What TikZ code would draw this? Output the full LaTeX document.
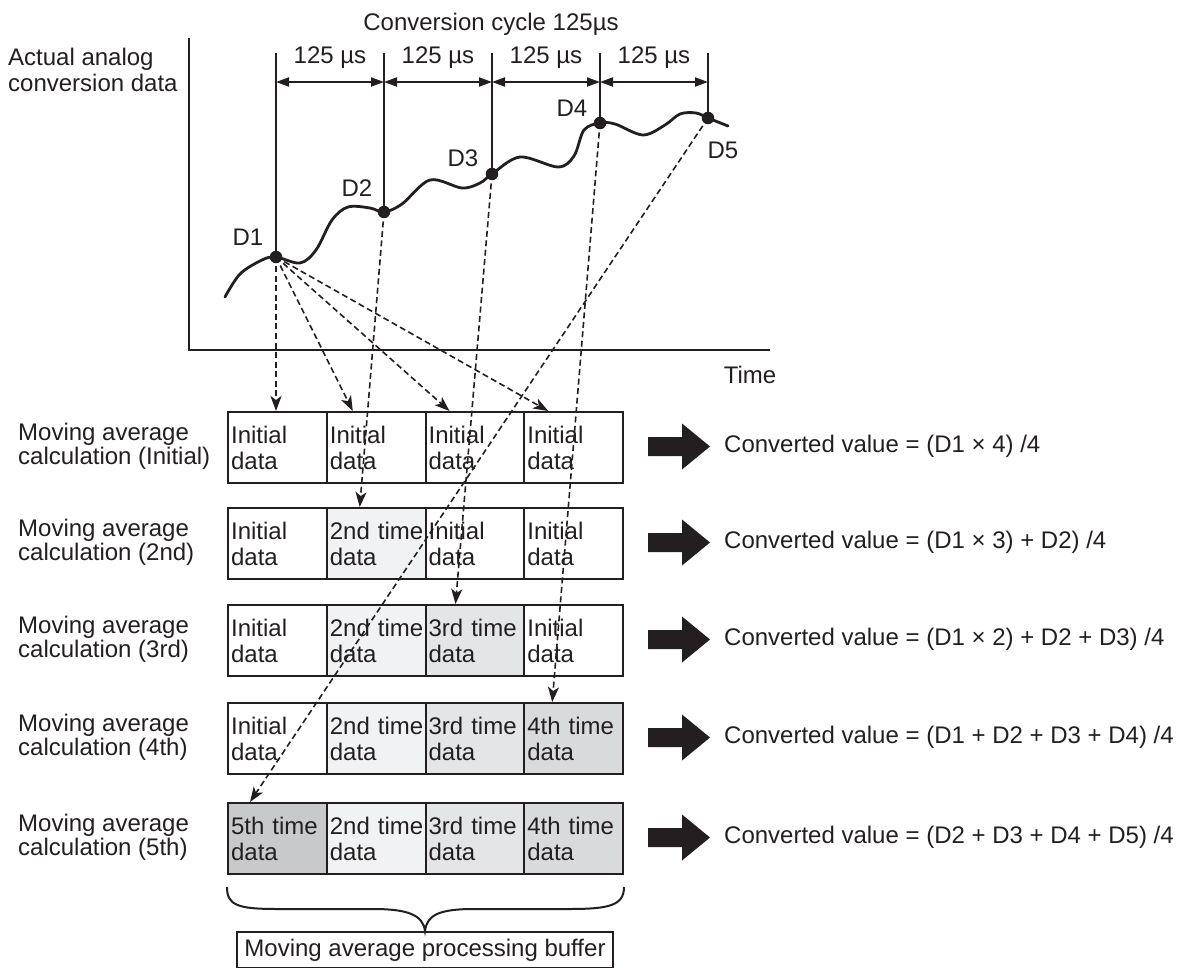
\documentclass[tikz,border=0pt]{standalone}
\usepackage{fontspec}
\setmainfont{Liberation Sans}
\usetikzlibrary{arrows.meta,calc}
\definecolor{fillB}{HTML}{F1F2F3}
\definecolor{fillC}{HTML}{E4E5E7}
\definecolor{fillD}{HTML}{D9DADC}
\definecolor{fillE}{HTML}{C8C9CB}
\definecolor{ink}{HTML}{231F20}
\newcommand{\twolines}[2]{\mbox{#1}\\\mbox{#2}}
\begin{document}
\begin{tikzpicture}[x=1pt,y=-1pt,
  every node/.style={font=\fontsize{24}{25}\selectfont, text=ink},
  cell/.style={draw=ink, line width=2pt, minimum width=98.75pt, minimum height=71pt,
    text width=92.5pt, align=left, inner xsep=3pt, inner ysep=0pt, anchor=north west,
    font=\fontsize{24}{26}\selectfont},
  rowlabel/.style={anchor=west, align=left, inner sep=0pt, font=\fontsize{24}{24.5}\selectfont},
  result/.style={anchor=west, inner sep=0pt},
  dot/.style={circle, fill=ink, inner sep=0pt, minimum size=12.5pt},
  dline/.style={draw=ink, line width=1.6pt, dash pattern=on 6pt off 3.5pt,
    -{Stealth[length=15pt,width=11pt,inset=4pt]}},
  axisline/.style={draw=ink, line width=2.5pt},
  tickline/.style={draw=ink, line width=2.1pt},
  dimarrow/.style={draw=ink, line width=2pt, {Triangle[length=13pt,width=9pt]}-{Triangle[length=13pt,width=9pt]}},
  bigarrow/.style={fill=ink},
]
\useasboundingbox (0,0) rectangle (1186,968);

% ---------- graph ----------
\draw[axisline] (189,38) -- (189,350) -- (770,350);
\node[inner sep=0pt, anchor=west, align=left, font=\fontsize{24}{26}\selectfont] (ylab) at (8,70) {Actual analog\\conversion data};
\node[inner sep=0pt] (xlab) at (750,375) {Time};
\node[inner sep=0pt] (title) at (491,24) {Conversion cycle 125µs};

\draw[ink, line width=2.8pt, line join=round, line cap=round] plot[smooth, tension=0.55] coordinates {
 (225,297) (240,274) (262,260) (276,257) (300,263) (316,250) (332,220) (348,207)
 (370,208) (384,212) (402,204) (430,180) (462,188) (480,183) (492,174) (520,157)
 (558,167) (574,156) (584,130) (600,123) (615,124) (643,135) (665,125) (680,114)
 (696,113) (708,118) (728,126)};

\node[dot] (D1) at (276,257) {};
\node[dot] (D2) at (384,212) {};
\node[dot] (D3) at (492,174) {};
\node[dot] (D4) at (600,123) {};
\node[dot] (D5) at (708,118) {};
\node[inner sep=0pt] (lD1) at (248,237) {D1};
\node[inner sep=0pt] (lD2) at (357,188) {D2};
\node[inner sep=0pt] (lD3) at (463,158) {D3};
\node[inner sep=0pt] (lD4) at (572,108) {D4};
\node[inner sep=0pt] (lD5) at (723,150) {D5};

\coordinate (t1) at (276,53);
\coordinate (t2) at (384,53);
\coordinate (t3) at (492,53);
\coordinate (t4) at (600,53);
\coordinate (t5) at (708,53);
\draw[tickline] (D1.center) -- (t1);
\draw[tickline] (D2.center) -- (t2);
\draw[tickline] (D3.center) -- (t3);
\draw[tickline] (D4.center) -- (t4);
\draw[tickline] (D5.center) -- (t5);
\draw[dimarrow] ($(t1)+(0,29)$) -- ($(t2)+(0,29)$);
\draw[dimarrow] ($(t2)+(0,29)$) -- ($(t3)+(0,29)$);
\draw[dimarrow] ($(t3)+(0,29)$) -- ($(t4)+(0,29)$);
\draw[dimarrow] ($(t4)+(0,29)$) -- ($(t5)+(0,29)$);
\node[inner sep=0pt] (p1) at (330,58) {125 µs};
\node[inner sep=0pt] (p2) at (438,58) {125 µs};
\node[inner sep=0pt] (p3) at (546,58) {125 µs};
\node[inner sep=0pt] (p4) at (654,58) {125 µs};

% ---------- buffers ----------
% row 1
\node[cell] (r1c1) at (227,411) {\twolines{Initial}{data}};
\node[cell] (r1c2) at (325.75,411) {\twolines{Initial}{data}};
\node[cell] (r1c3) at (424.5,411) {\twolines{Initial}{data}};
\node[cell] (r1c4) at (523.25,411) {\twolines{Initial}{data}};
% row 2
\node[cell] (r2c1) at (227,507) {\twolines{Initial}{data}};
\node[cell, fill=fillB] (r2c2) at (325.75,507) {\twolines{2nd time}{data}};
\node[cell] (r2c3) at (424.5,507) {\twolines{Initial}{data}};
\node[cell] (r2c4) at (523.25,507) {\twolines{Initial}{data}};
% row 3
\node[cell] (r3c1) at (227,604) {\twolines{Initial}{data}};
\node[cell, fill=fillB] (r3c2) at (325.75,604) {\twolines{2nd time}{data}};
\node[cell, fill=fillC] (r3c3) at (424.5,604) {\twolines{3rd time}{data}};
\node[cell] (r3c4) at (523.25,604) {\twolines{Initial}{data}};
% row 4
\node[cell] (r4c1) at (227,702) {\twolines{Initial}{data}};
\node[cell, fill=fillB] (r4c2) at (325.75,702) {\twolines{2nd time}{data}};
\node[cell, fill=fillC] (r4c3) at (424.5,702) {\twolines{3rd time}{data}};
\node[cell, fill=fillD] (r4c4) at (523.25,702) {\twolines{4th time}{data}};
% row 5
\node[cell, fill=fillE] (r5c1) at (227,802) {\twolines{5th time}{data}};
\node[cell, fill=fillB] (r5c2) at (325.75,802) {\twolines{2nd time}{data}};
\node[cell, fill=fillC] (r5c3) at (424.5,802) {\twolines{3rd time}{data}};
\node[cell, fill=fillD] (r5c4) at (523.25,802) {\twolines{4th time}{data}};

% row labels
\node[rowlabel] (L1) at (18,446.5) {Moving average\\calculation (Initial)};
\node[rowlabel] (L2) at (18,542.5) {Moving average\\calculation (2nd)};
\node[rowlabel] (L3) at (18,639.5) {Moving average\\calculation (3rd)};
\node[rowlabel] (L4) at (18,737.5) {Moving average\\calculation (4th)};
\node[rowlabel] (L5) at (18,837.5) {Moving average\\calculation (5th)};

% big arrows and results
\foreach \c in {446.5,542.5,639.5,737.5,837.5}{
  \fill[bigarrow] (648,\c-9.5) -- (682,\c-9.5) -- (682,\c-23) -- (710,\c) -- (682,\c+23) -- (682,\c+9.5) -- (648,\c+9.5) -- cycle;
}
\node[result] (R1) at (724,446.5) {Converted value = (D1 × 4) /4};
\node[result] (R2) at (724,542.5) {Converted value = (D1 × 3) + D2) /4};
\node[result] (R3) at (724,639.5) {Converted value = (D1 × 2) + D2 + D3) /4};
\node[result] (R4) at (724,737.5) {Converted value = (D1 + D2 + D3 + D4) /4};
\node[result] (R5) at (724,837.5) {Converted value = (D2 + D3 + D4 + D5) /4};

% dashed transfer arrows
\draw[dline] (D1.center) -- ($(r1c1.north west)+(49,0)$);
\draw[dline] (D1.center) -- ($(r1c2.north west)+(27,0)$);
\draw[dline] (D1.center) -- ($(r1c3.north west)+(25,0)$);
\draw[dline] (D1.center) -- ($(r1c4.north west)+(25,0)$);
\draw[dline] (D2.center) -- ($(r2c2.north west)+(34,0)$);
\draw[dline] (D3.center) -- ($(r3c3.north west)+(31,0)$);
\draw[dline] (D4.center) -- ($(r4c4.north west)+(29,0)$);
\draw[dline] (D5.center) -- ($(r5c1.north west)+(23,0)$);

% brace and buffer label
\node[draw=ink, line width=2pt, minimum width=376pt, minimum height=36pt, inner sep=0pt] (buf) at (425,950) {Moving average processing buffer};
\draw[ink, line width=2pt] (r5c1.south west) ++(0,12) .. controls +(0,18) and +(-40,0) .. ++(50,22) -- ++(96,0)
   .. controls +(35,0) and +(-2,-16) .. (buf.north) .. controls +(2,-16) and +(-35,0) .. ++(49,-22) -- ++(96,0)
   .. controls +(40,0) and +(0,18) .. ($(r5c4.south east)+(0,12)$);
\end{tikzpicture}
\end{document}
